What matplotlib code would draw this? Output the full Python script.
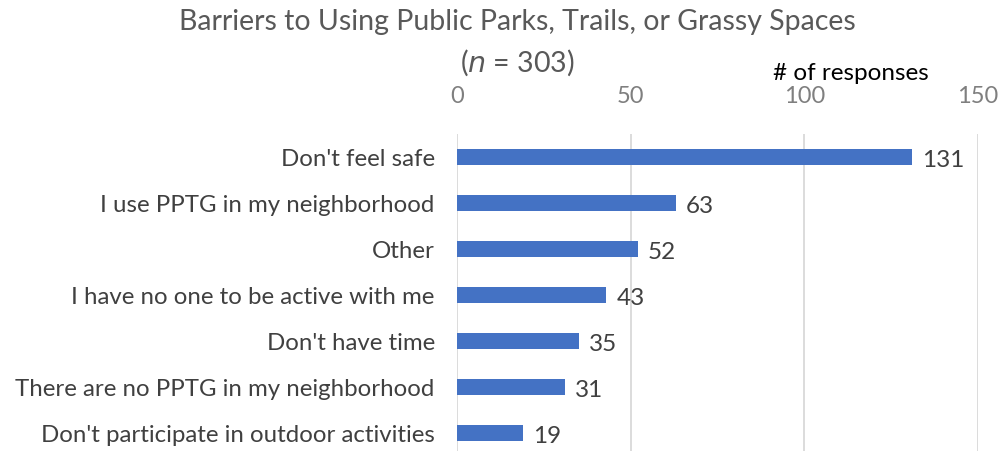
import matplotlib.pyplot as plt
import numpy as np

plt.rcParams['font.family'] = ['Lato', 'DejaVu Sans']

barriers = [
    "Don't feel safe",
    "I use PPTG in my neighborhood",
    "Other",
    "I have no one to be active with me",
    "Don't have time",
    "There are no PPTG in my neighborhood",
    "Don't participate in outdoor activities",
]
responses = [131, 63, 52, 43, 35, 31, 19]
x_ticks = [0, 50, 100, 150]

BAR_COLOR = "#4472C4"
TEXT_DARK = "#404040"
TEXT_GRAY = "#595959"

fig = plt.figure(figsize=(10.03, 4.52), dpi=100)
ax = fig.add_axes([457 / 1003, 0.0, (978 - 457) / 1003, (452 - 135) / 452])

y = np.arange(len(barriers))
ax.barh(y, responses, height=0.36, color=BAR_COLOR, zorder=3)

# value labels just past the end of each bar
for yi, v in zip(y, responses):
    ax.text(v + 3, yi + 0.05, str(v), va="center", ha="left", fontsize=17.5, color=TEXT_DARK)

ax.set_xlim(0, 150)
ax.set_ylim(6 + 18 / 46, -0.5)
ax.set_yticks(y)
ax.set_yticklabels(barriers, fontsize=17.3, color=TEXT_DARK)
ax.set_xticks(x_ticks)
ax.xaxis.tick_top()
ax.tick_params(axis="x", labelsize=17, colors="#7f7f7f", length=0, pad=20)
ax.tick_params(axis="y", length=0, pad=16)
ax.grid(axis="x", color="#d9d9d9", linewidth=1.3, zorder=0)
for s in ax.spines.values():
    s.set_visible(False)

fig.text(517 / 1003, 1 - 22 / 452, "Barriers to Using Public Parks, Trails, or Grassy Spaces",
         ha="center", va="center", fontsize=20.5, color=TEXT_GRAY)
fig.text(517 / 1003, 1 - 63 / 452, r"($\it{n}$ = 303)",
         ha="center", va="center", fontsize=20.5, color=TEXT_GRAY)
fig.text(851 / 1003, 1 - 73 / 452, "# of responses",
         ha="center", va="center", fontsize=17.5, color="black")

fig.savefig("out.png", dpi=100)
